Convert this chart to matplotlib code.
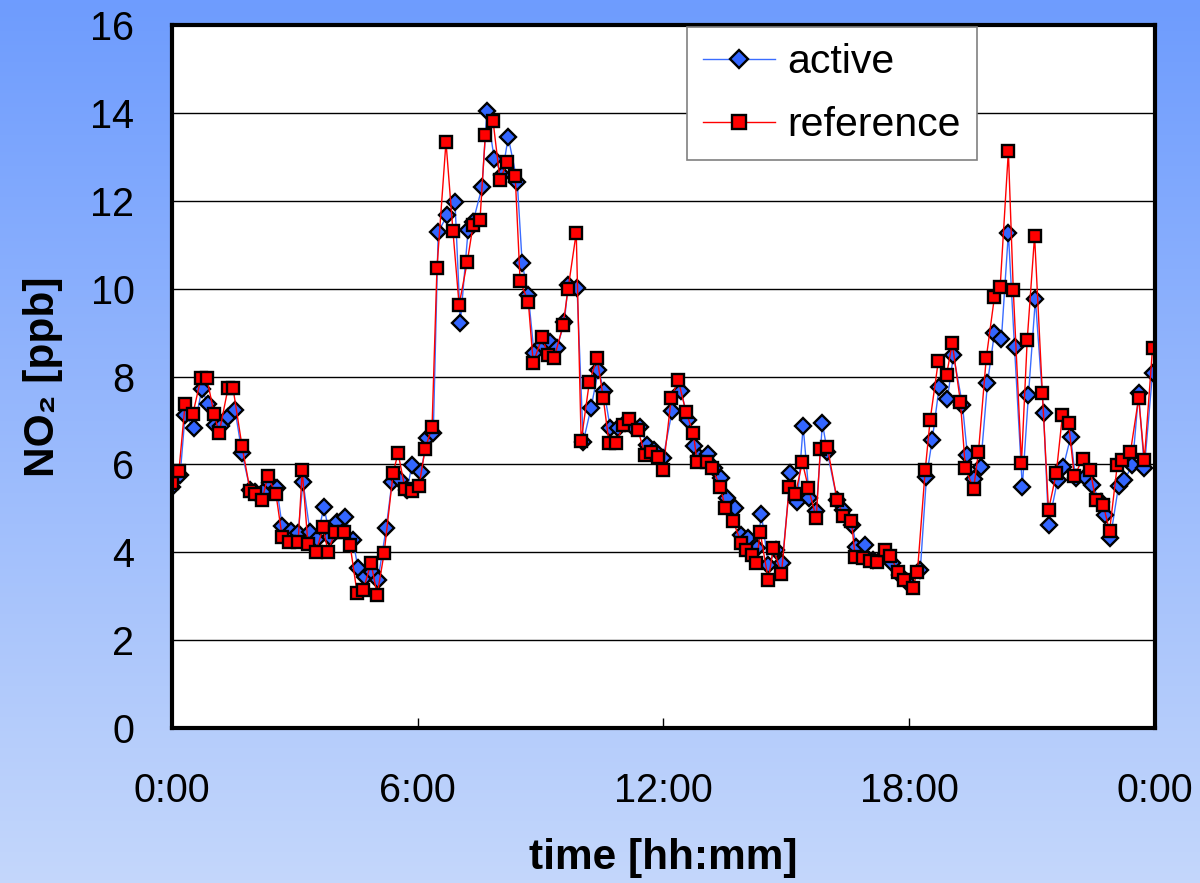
import numpy as np
import matplotlib.pyplot as plt
from matplotlib.colors import LinearSegmentedColormap

plt.rcParams["font.family"] = ["Liberation Sans", "DejaVu Sans"]

# hours since midnight, NO2 in ppb
t_active = [0.00, 0.20, 0.32, 0.54, 0.73, 0.88, 1.05, 1.20, 1.37, 1.54, 1.71, 1.91, 2.03, 2.27, 2.39,
            2.56, 2.69, 2.91, 3.08, 3.20, 3.37, 3.54, 3.71, 3.86, 4.03, 4.23, 4.42, 4.54, 4.71, 4.89,
            5.03, 5.23, 5.37, 5.57, 5.74, 5.86, 6.08, 6.23, 6.38, 6.50, 6.72, 6.91, 7.04, 7.23, 7.35,
            7.57, 7.69, 7.87, 8.06, 8.21, 8.43, 8.55, 8.70, 8.84, 9.04, 9.23, 9.40, 9.58, 9.67, 9.89,
            10.04, 10.23, 10.41, 10.55, 10.70, 10.89, 11.07, 11.21, 11.43, 11.60, 11.77, 11.99, 12.21,
            12.43, 12.60, 12.75, 12.87, 13.09, 13.24, 13.41, 13.56, 13.75, 13.90, 14.07, 14.29, 14.39,
            14.56, 14.75, 14.90, 15.10, 15.27, 15.41, 15.56, 15.73, 15.88, 16.00, 16.24, 16.39, 16.61,
            16.71, 16.93, 17.12, 17.42, 17.59, 17.78, 17.95, 18.27, 18.42, 18.56, 18.73, 18.93, 19.08,
            19.30, 19.42, 19.59, 19.74, 19.91, 20.08, 20.25, 20.42, 20.57, 20.76, 20.91, 21.08, 21.28,
            21.40, 21.62, 21.76, 21.94, 22.06, 22.30, 22.47, 22.67, 22.79, 22.91, 23.11, 23.25, 23.45,
            23.60, 23.74, 23.94]
no2_active = [5.48, 5.76, 7.12, 6.83, 7.71, 7.37, 6.90, 6.88, 7.08, 7.24, 6.26, 5.42, 5.37, 5.42, 5.58,
              5.46, 4.60, 4.48, 4.44, 5.60, 4.46, 4.30, 5.03, 4.35, 4.69, 4.80, 4.28, 3.64, 3.44, 3.55,
              3.37, 4.55, 5.59, 5.64, 5.42, 5.99, 5.83, 6.60, 6.71, 11.29, 11.67, 11.97, 9.22, 11.33, 11.52,
              12.31, 14.04, 12.95, 12.59, 13.45, 12.43, 10.58, 9.85, 8.53, 8.72, 8.78, 8.65, 9.24, 10.08, 10.01,
              6.51, 7.28, 8.15, 7.67, 6.83, 6.83, 6.94, 6.90, 6.85, 6.44, 6.33, 6.14, 7.21,
              7.67, 7.01, 6.42, 6.17, 6.24, 5.92, 5.69, 5.23, 5.01, 4.39, 4.32, 4.10, 4.87,
              3.71, 4.05, 3.76, 5.80, 5.14, 6.87, 5.23, 4.94, 6.94, 6.28, 5.19, 4.96, 4.62,
              4.12, 4.16, 3.82, 3.94, 3.76, 3.48, 3.32, 3.60, 5.71, 6.55, 7.76, 7.48, 8.49,
              7.35, 6.21, 5.67, 5.94, 7.85, 8.99, 8.85, 11.27, 8.67, 5.48, 7.58, 9.76, 7.17,
              4.62, 5.64, 5.94, 6.62, 5.69, 5.71, 5.53, 5.14, 4.85, 4.32, 5.51, 5.64, 5.99,
              7.62, 5.92, 8.08]

t_reference = [0.00, 0.17, 0.32, 0.51, 0.71, 0.85, 1.03, 1.15, 1.37, 1.49, 1.71, 1.91, 2.03, 2.20, 2.34,
               2.54, 2.69, 2.86, 3.08, 3.18, 3.32, 3.52, 3.69, 3.81, 3.98, 4.20, 4.35, 4.52, 4.67, 4.86,
               5.01, 5.18, 5.40, 5.52, 5.69, 5.86, 6.03, 6.18, 6.35, 6.47, 6.69, 6.86, 7.01, 7.21, 7.35,
               7.52, 7.65, 7.84, 8.01, 8.18, 8.38, 8.50, 8.70, 8.82, 9.04, 9.18, 9.33, 9.55, 9.67, 9.87,
               9.99, 10.19, 10.38, 10.53, 10.67, 10.85, 11.02, 11.16, 11.38, 11.55, 11.70, 11.87, 11.99,
               12.19, 12.36, 12.55, 12.73, 12.82, 13.07, 13.19, 13.39, 13.51, 13.70, 13.90, 14.02, 14.17,
               14.27, 14.36, 14.56, 14.68, 14.88, 15.07, 15.22, 15.39, 15.54, 15.73, 15.83, 16.00, 16.24,
               16.39, 16.59, 16.68, 16.88, 17.05, 17.22, 17.42, 17.54, 17.73, 17.86, 18.08, 18.20, 18.39,
               18.51, 18.71, 18.91, 19.05, 19.25, 19.37, 19.57, 19.69, 19.88, 20.08, 20.22, 20.42, 20.54,
               20.74, 20.88, 21.06, 21.25, 21.40, 21.59, 21.74, 21.89, 22.03, 22.23, 22.42, 22.55, 22.74,
               22.89, 23.08, 23.20, 23.40, 23.60, 23.74, 23.94]
no2_reference = [5.58, 5.85, 7.37, 7.15, 7.97, 7.97, 7.15, 6.71, 7.74, 7.74, 6.42, 5.39, 5.32, 5.19, 5.73,
                 5.32, 4.35, 4.23, 4.23, 5.87, 4.19, 4.01, 4.57, 4.01, 4.46, 4.46, 4.16, 3.07, 3.14, 3.76,
                 3.03, 3.98, 5.80, 6.26, 5.45, 5.40, 5.50, 6.35, 6.85, 10.47, 13.34, 11.31, 9.63, 10.61, 11.44,
                 11.56, 13.50, 13.81, 12.47, 12.88, 12.56, 10.17, 9.70, 8.31, 8.90, 8.49, 8.42, 9.17, 9.99, 11.27,
                 6.53, 7.87, 8.42, 7.51, 6.49, 6.49, 6.90, 7.03, 6.78, 6.21, 6.28, 6.17, 5.87,
                 7.51, 7.92, 7.19, 6.71, 6.05, 6.05, 5.92, 5.48, 5.01, 4.71, 4.21, 4.05, 3.94,
                 3.76, 4.46, 3.37, 4.10, 3.50, 5.48, 5.32, 6.05, 5.46, 4.78, 6.35, 6.40, 5.19,
                 4.83, 4.71, 3.89, 3.87, 3.81, 3.78, 4.05, 3.91, 3.55, 3.37, 3.19, 3.55, 5.87,
                 7.01, 8.35, 8.03, 8.76, 7.42, 5.92, 5.44, 6.28, 8.42, 9.81, 10.04, 13.13, 9.97,
                 6.03, 8.83, 11.20, 7.62, 4.96, 5.80, 7.12, 6.94, 5.73, 6.12, 5.87, 5.19, 5.07,
                 4.48, 5.99, 6.10, 6.28, 7.51, 6.10, 8.65]

x_ticks = [0, 6, 12, 18, 24]
x_tick_labels = ["0:00", "6:00", "12:00", "18:00", "0:00"]
y_ticks = [0, 2, 4, 6, 8, 10, 12, 14, 16]

fig = plt.figure(figsize=(12, 8.83), dpi=100)

# blue gradient backdrop
bg = fig.add_axes([0, 0, 1, 1], zorder=0)
grad = np.linspace(0, 1, 256).reshape(-1, 1)
cmap = LinearSegmentedColormap.from_list("bg", ["#6e9cfe", "#c4d7fb"])
bg.imshow(grad, aspect="auto", cmap=cmap, extent=[0, 1, 0, 1])
bg.set_axis_off()

ax = fig.add_axes([0.1433, 0.1755, 0.8192, 0.7962], zorder=1)
ax.set_facecolor("white")

ax.plot(t_active, no2_active, color="#3a6cff", linewidth=1, marker="D", markersize=8.5,
        markerfacecolor="#3366ff", markeredgecolor="black", markeredgewidth=1.7, label="active")
ax.plot(t_reference, no2_reference, color="#ff0000", linewidth=1, marker="s", markersize=9,
        markerfacecolor="#ff0000", markeredgecolor="black", markeredgewidth=1.7, label="reference")

ax.set_xlim(0, 24)
ax.set_ylim(0, 16)
ax.set_xticks(x_ticks, x_tick_labels, fontsize=28.5)
ax.set_yticks(y_ticks, [str(v) for v in y_ticks], fontsize=28.5)
ax.tick_params(axis="x", direction="in", length=7, width=1, pad=32)
ax.tick_params(axis="y", length=0, pad=27)
ax.yaxis.grid(True, color="black", linewidth=1)
ax.set_axisbelow(True)
for s in ax.spines.values():
    s.set_linewidth(3)
    s.set_color("black")

ax.set_xlabel("time [hh:mm]", fontsize=30.5, fontweight="bold", labelpad=20)
ax.set_ylabel("NO₂ [ppb]", fontsize=30.5, fontweight="bold", labelpad=20)

leg = ax.legend(loc="upper left", bbox_to_anchor=(0.524, 0.997), fontsize=29.5, frameon=True,
                fancybox=False, edgecolor="#808080", facecolor="white", framealpha=1,
                handlelength=1.75, handletextpad=0.3, borderpad=0.4, labelspacing=0.6,
                borderaxespad=0, markerscale=1.1)
leg.get_frame().set_linewidth(1.2)

fig.savefig("out.png", dpi=100)
